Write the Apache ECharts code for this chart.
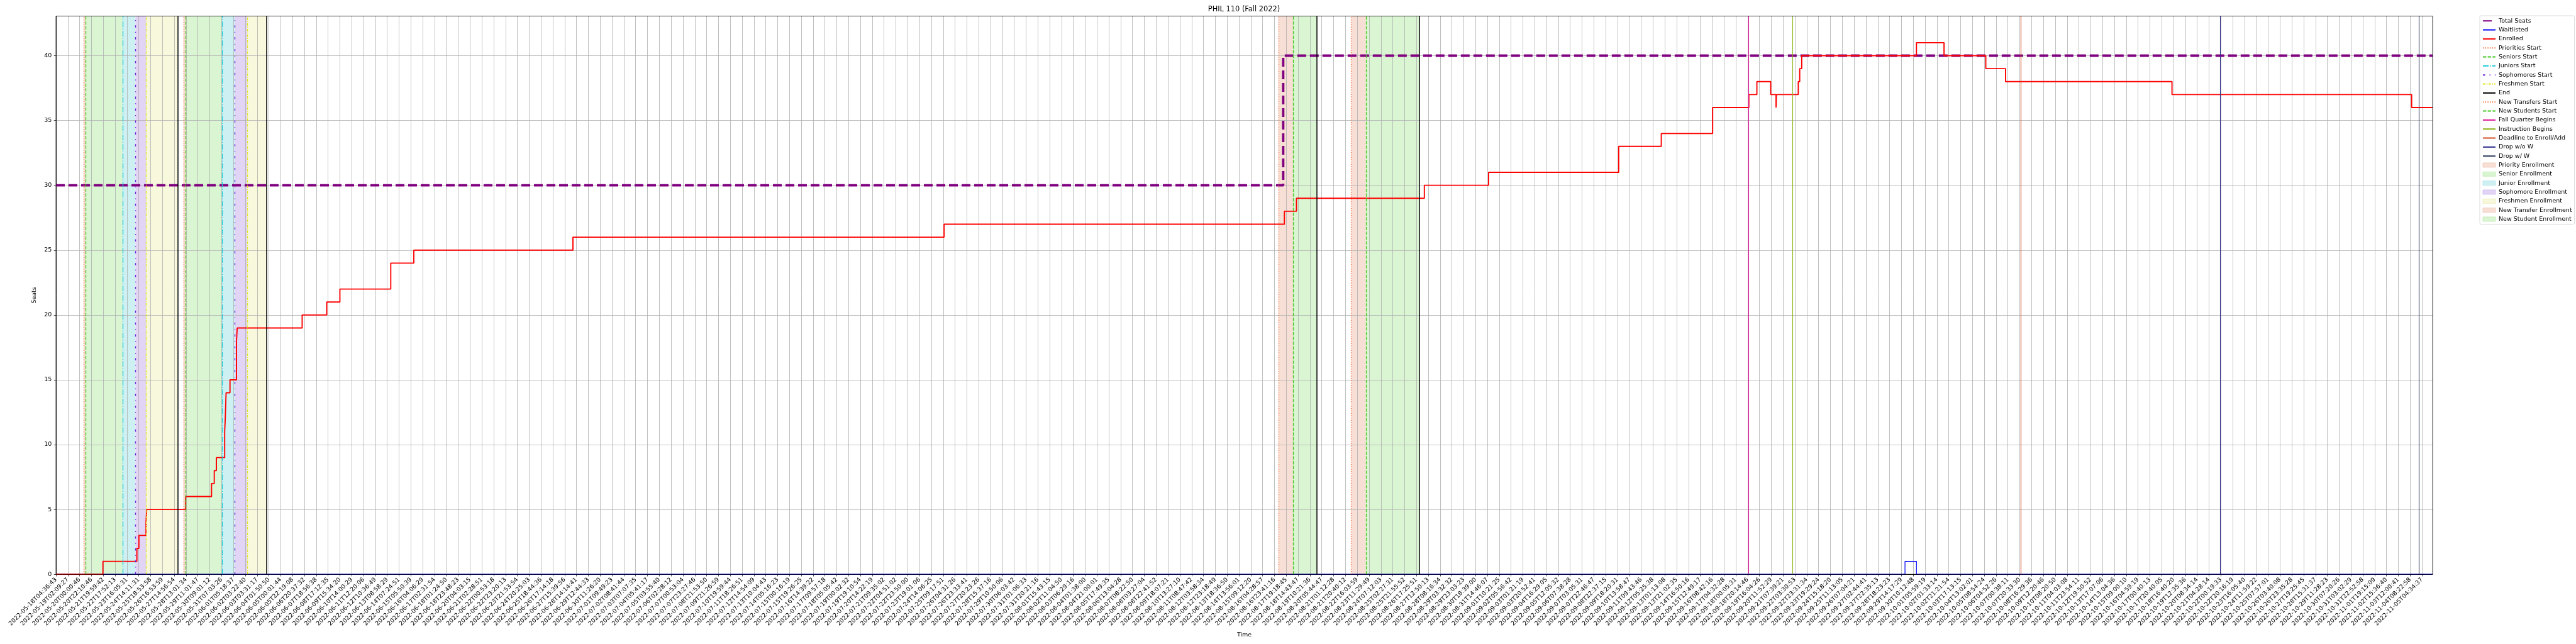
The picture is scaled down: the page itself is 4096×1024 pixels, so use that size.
<!DOCTYPE html>
<html><head><meta charset="utf-8">
<script src="https://cdn.jsdelivr.net/npm/echarts@6/dist/echarts.min.js"></script>
<style>html,body{margin:0;padding:0;background:#fff}#c{width:4096px;height:1024px}</style>
</head><body><div id="c"></div>
<script>
// ---------- tick labels (one per tick, index-based x axis) ----------
const tickLabels = [
"2022-05-18T04:36:43","2022-05-19T02:09:27","2022-05-20T00:00:46","2022-05-20T22:10:46","2022-05-21T19:59:42",
"2022-05-22T17:52:13","2022-05-23T16:05:31","2022-05-24T14:11:31","2022-05-25T18:53:58","2022-05-26T16:53:59",
"2022-05-27T14:56:54","2022-05-28T13:01:34","2022-05-29T11:01:47","2022-05-30T09:01:12","2022-05-31T07:03:26",
"2022-06-01T05:18:37","2022-06-02T03:22:40","2022-06-03T03:31:17","2022-06-04T01:50:50","2022-06-05T00:01:44",
"2022-06-05T22:19:08","2022-06-06T20:37:32","2022-06-07T18:56:38","2022-06-08T17:12:35","2022-06-09T15:34:20",
"2022-06-10T14:00:29","2022-06-11T12:20:06","2022-06-12T10:36:49","2022-06-13T08:58:29","2022-06-14T07:24:51",
"2022-06-15T05:50:39","2022-06-16T04:06:29","2022-06-17T02:31:54","2022-06-18T01:24:50","2022-06-18T23:48:23",
"2022-06-20T04:03:15","2022-06-21T02:28:51","2022-06-22T00:53:18","2022-06-22T23:20:13","2022-06-23T21:53:54",
"2022-06-24T20:25:03","2022-06-25T18:44:36","2022-06-26T17:14:18","2022-06-27T15:39:56","2022-06-28T14:14:41",
"2022-06-29T12:44:33","2022-06-30T11:26:20","2022-07-01T09:49:23","2022-07-02T08:41:44","2022-07-03T07:07:35",
"2022-07-04T05:41:17","2022-07-05T03:55:40","2022-07-06T02:28:12","2022-07-07T00:53:04","2022-07-07T23:27:46",
"2022-07-08T21:53:50","2022-07-09T21:26:59","2022-07-10T19:59:44","2022-07-11T18:26:51","2022-07-12T14:54:09",
"2022-07-13T10:04:43","2022-07-14T05:16:23","2022-07-15T00:16:19","2022-07-15T19:26:25","2022-07-16T14:39:22",
"2022-07-17T09:57:18","2022-07-18T05:05:42","2022-07-19T00:02:32","2022-07-19T19:10:54","2022-07-20T14:22:19",
"2022-07-21T09:35:02","2022-07-22T04:51:02","2022-07-22T23:50:00","2022-07-23T19:01:06","2022-07-24T14:06:25",
"2022-07-25T09:17:51","2022-07-26T04:31:26","2022-07-26T23:33:41","2022-07-27T20:23:26","2022-07-28T15:37:16",
"2022-07-29T10:50:06","2022-07-30T06:03:42","2022-07-31T01:06:33","2022-07-31T20:21:16","2022-08-01T15:43:15",
"2022-08-02T11:04:50","2022-08-03T06:29:16","2022-08-04T01:38:00","2022-08-04T21:00:01","2022-08-05T17:49:35",
"2022-08-06T13:04:28","2022-08-07T08:22:50","2022-08-08T03:27:04","2022-08-08T22:41:52","2022-08-09T18:07:21",
"2022-08-10T13:27:10","2022-08-11T08:47:42","2022-08-12T03:58:34","2022-08-12T23:18:49","2022-08-13T18:36:50",
"2022-08-14T13:56:01","2022-08-15T09:12:20","2022-08-16T04:28:57","2022-08-16T23:41:16","2022-08-17T19:18:45",
"2022-08-18T14:43:47","2022-08-19T10:21:36","2022-08-20T05:44:47","2022-08-21T01:12:28","2022-08-21T20:40:12",
"2022-08-22T16:03:59","2022-08-23T11:29:49","2022-08-24T07:12:03","2022-08-25T02:27:31","2022-08-25T21:55:52",
"2022-08-26T17:25:51","2022-08-27T12:50:13","2022-08-28T08:16:34","2022-08-29T03:32:32","2022-08-29T23:03:23",
"2022-08-30T18:39:00","2022-08-31T14:46:07","2022-09-01T10:21:25","2022-09-02T05:56:42","2022-09-03T01:21:19",
"2022-09-03T20:52:41","2022-09-04T16:29:05","2022-09-05T12:05:32","2022-09-06T07:38:28","2022-09-07T03:05:31",
"2022-09-07T22:46:47","2022-09-08T22:37:15","2022-09-09T18:20:31","2022-09-10T13:58:47","2022-09-11T09:43:46",
"2022-09-12T05:25:38","2022-09-13T01:13:08","2022-09-13T21:02:35","2022-09-14T16:50:16","2022-09-15T12:49:17",
"2022-09-16T08:42:16","2022-09-17T04:32:28","2022-09-18T00:05:31","2022-09-18T20:14:46","2022-09-19T16:04:26",
"2022-09-20T11:52:29","2022-09-21T07:39:21","2022-09-22T03:30:53","2022-09-22T23:31:34","2022-09-23T19:29:24",
"2022-09-24T15:18:20","2022-09-25T11:13:05","2022-09-26T07:04:21","2022-09-27T02:44:41","2022-09-27T22:35:13",
"2022-09-28T18:23:23","2022-09-29T14:17:29","2022-09-30T10:12:48","2022-10-01T05:59:19","2022-10-02T01:33:14",
"2022-10-02T21:21:54","2022-10-03T17:13:15","2022-10-04T13:02:01","2022-10-05T08:54:24","2022-10-06T04:52:26",
"2022-10-07T00:38:11","2022-10-07T20:33:30","2022-10-08T16:29:36","2022-10-09T12:20:46","2022-10-10T08:20:50",
"2022-10-11T04:03:08","2022-10-11T23:54:11","2022-10-12T19:50:52","2022-10-13T17:07:06","2022-10-14T13:04:36",
"2022-10-15T09:00:10","2022-10-16T04:59:19","2022-10-17T00:40:13","2022-10-17T20:40:05","2022-10-18T16:40:20",
"2022-10-19T12:35:36","2022-10-20T08:34:14","2022-10-21T04:28:14","2022-10-22T00:19:33","2022-10-22T20:16:19",
"2022-10-23T16:05:40","2022-10-24T11:59:22","2022-10-25T07:57:01","2022-10-26T03:40:08","2022-10-26T23:35:28",
"2022-10-27T19:25:45","2022-10-28T15:31:37","2022-10-29T11:28:23","2022-10-30T07:20:26","2022-10-31T03:02:29",
"2022-10-31T22:52:58","2022-11-01T19:15:09","2022-11-02T15:36:40","2022-11-03T12:00:41","2022-11-04T08:22:58",
"2022-11-05T04:34:37"
];
const yTickValues = [0, 5, 10, 15, 20, 25, 30, 35, 40];
const xMax = 200.9;
const yMax = 43.05;

// ---------- step series (x in tick-index units) ----------
const seatsX = [0, 103.74, 200.9];
const seatsY = [30, 40, 40];
const waitX = [0, 156.3, 157.27, 200.9];
const waitY = [0, 1, 0, 0];
const enrolledX = [0, 3.97, 6.84, 7.01, 7.61, 7.67, 10.96, 13.15, 13.38, 13.56, 14.26, 14.31, 14.38, 14.71, 15.26, 15.32,
  20.81, 22.89, 24.0, 28.3, 30.25, 43.7, 75.07, 103.84, 104.86, 115.67, 121.1, 132.1, 135.7, 140.04,
  143.1, 143.78, 144.95, 145.4, 145.43, 147.28, 147.4, 147.57, 157.27, 159.6, 163.13, 164.8, 178.87, 199.13, 200.9];
const enrolledY = [0, 1, 2, 3, 4, 5, 6, 7, 8, 9, 11, 12, 14, 15, 18, 19,
  20, 21, 22, 24, 25, 26, 27, 28, 29, 30, 31, 33, 34, 36,
  37, 38, 37, 36, 37, 38, 39, 40, 41, 40, 39, 38, 37, 36, 36];

// ---------- event lines ----------
const prioritiesStart = [2.35, 10.78];
const seniorsStart = [2.52, 10.96];
const juniorsStart = [5.63, 14.04];
const sophomoresStart = [6.72, 15.13];
const freshmenStart = [7.63, 16.18];
const endLines = [10.31, 17.80, 106.56, 115.23];
const newTransfersStart = [103.34, 109.50];
const newStudentsStart = [104.57, 110.73];
const fallQuarterBegins = [143.08];
const instructionBegins = [146.78];
const deadlineEnroll = [166.09];
const dropNoW = [182.94];
const dropW = [199.76];

// ---------- shaded periods ----------
const priorityPeriods = [[2.35, 2.52], [10.78, 10.96]];
const seniorPeriods = [[2.52, 5.63], [10.96, 14.04]];
const juniorPeriods = [[5.63, 6.72], [14.04, 15.13]];
const sophomorePeriods = [[6.72, 7.63], [15.13, 16.18]];
const freshmenPeriods = [[7.63, 10.31], [16.18, 17.80]];
const newTransferPeriods = [[103.34, 104.57], [109.50, 110.73]];
const newStudentPeriods = [[104.57, 106.56], [110.73, 115.23]];

const FONT = 'DejaVu Sans';
const tickIdx = tickLabels.map((_, i) => i);
const zip = (xs, ys) => xs.map((x, i) => [x, ys[i]]);

function stepSeries(name, xs, ys, color, width, type) {
  return { name, type: 'line', step: 'end', data: zip(xs, ys), symbol: 'none', showSymbol: false,
    color, lineStyle: { color, width, type, cap: 'butt' }, z: 2, silent: true, animation: false };
}
function vline(name, xs, color, width, type) {
  return { name, type: 'line', data: [], symbol: 'none', color,
    itemStyle: { color }, lineStyle: { color, width, type },
    markLine: { silent: true, symbol: ['none', 'none'], label: { show: false }, animation: false, z: 4,
      lineStyle: { color, width, type, opacity: 1 }, emphasis: { disabled: true },
      data: xs.map(x => ({ xAxis: x })) } };
}
function band(name, ranges, color) {
  return { name, type: 'line', data: [], symbol: 'none', color,
    itemStyle: { color }, lineStyle: { color, width: 0 },
    markArea: { silent: true, z: 1, animation: false, itemStyle: { color, borderWidth: 0, opacity: 1 },
      emphasis: { disabled: true },
      data: ranges.map(r => [{ xAxis: r[0] }, { xAxis: r[1] }]) } };
}

const C = {
  seats: '#800080', wait: '#0000ff', enr: '#ff0000',
  prio: '#f06a38', sen: '#44c822', jun: '#1cc8d6', soph: '#6a24d9', fresh: '#e2e21c', end: '#000000',
  fall: '#de1398', instr: '#8ab416', dead: '#d24a1f', dnw: '#2c2c8c', dw: '#2f3d5c',
  prioF: '#f7dfd5', senF: '#d9f5d1', junF: '#cdf0f3', sophF: '#e1d4f5', freshF: '#f7f8dc'
};
const dotted = [1.4, 2.3], dashed = [5.3, 2.3], dashdot = [9, 2.3, 1.4, 2.3],
      sophDash = [3.6, 7, 1.3, 7], freshDash = [4, 1.8, 1.3, 1.8];

const series = [
  stepSeries('Total Seats', seatsX, seatsY, C.seats, 3.8, [14, 6]),
  stepSeries('Waitlisted', waitX, waitY, C.wait, 1.2, 'solid'),
  stepSeries('Enrolled', enrolledX, enrolledY, C.enr, 1.9, 'solid'),
  vline('Priorities Start', prioritiesStart, C.prio, 1.3, dotted),
  vline('Seniors Start', seniorsStart, C.sen, 1.3, dashed),
  vline('Juniors Start', juniorsStart, C.jun, 1.3, dashdot),
  vline('Sophomores Start', sophomoresStart, C.soph, 1.4, sophDash),
  vline('Freshmen Start', freshmenStart, C.fresh, 1.3, freshDash),
  vline('End', endLines, C.end, 1.5, 'solid'),
  vline('New Transfers Start', newTransfersStart, C.prio, 1.3, dotted),
  vline('New Students Start', newStudentsStart, C.sen, 1.3, dashed),
  vline('Fall Quarter Begins', fallQuarterBegins, C.fall, 1.1, 'solid'),
  vline('Instruction Begins', instructionBegins, C.instr, 1.1, 'solid'),
  vline('Deadline to Enroll/Add', deadlineEnroll, C.dead, 1.1, 'solid'),
  vline('Drop w/o W', dropNoW, C.dnw, 1.1, 'solid'),
  vline('Drop w/ W', dropW, C.dw, 1.1, 'solid'),
  band('Priority Enrollment', priorityPeriods, C.prioF),
  band('Senior Enrollment', seniorPeriods, C.senF),
  band('Junior Enrollment', juniorPeriods, C.junF),
  band('Sophomore Enrollment', sophomorePeriods, C.sophF),
  band('Freshmen Enrollment', freshmenPeriods, C.freshF),
  band('New Transfer Enrollment', newTransferPeriods, C.prioF),
  band('New Student Enrollment', newStudentPeriods, C.senF)
];

const bandEdge = { 'Priority Enrollment': '#efc7b6', 'Senior Enrollment': '#bfeab3', 'Junior Enrollment': '#b0e4ea',
  'Sophomore Enrollment': '#cbb8ee', 'Freshmen Enrollment': '#ececb8', 'New Transfer Enrollment': '#efc7b6',
  'New Student Enrollment': '#bfeab3' };
const legendData = series.map(s => s.markArea
  ? { name: s.name, icon: 'rect', itemStyle: { color: s.color, borderColor: bandEdge[s.name], borderWidth: 0.8 } }
  : { name: s.name, itemStyle: { opacity: 0 } });

const chart = echarts.init(document.getElementById('c'), null, { renderer: 'canvas', width: 4096, height: 1024 });
chart.setOption({
  animation: false,
  textStyle: { fontFamily: FONT },
  title: { text: 'PHIL 110 (Fall 2022)', left: 1978, top: 10, padding: 0, textAlign: 'center',
    textStyle: { fontFamily: FONT, fontSize: 11.4, fontWeight: 'normal', color: '#000' } },
  grid: { left: 89, right: 228, top: 25.6, bottom: 110.8, show: true, borderColor: '#000', borderWidth: 0.8,
    backgroundColor: 'transparent', z: 6, containLabel: false },
  legend: {
    orient: 'vertical', left: 3943, top: 25, selectedMode: false,
    itemWidth: 20, itemHeight: 7, itemGap: 2.33, padding: [2.2, 4, 2, 4],
    backgroundColor: '#ffffff', borderColor: '#cccccc', borderWidth: 0.7, borderRadius: 2,
    textStyle: { fontFamily: FONT, fontSize: 9.5, color: '#000', lineHeight: 12 },
    data: legendData
  },
  xAxis: {
    type: 'value', min: 0, max: xMax, interval: 1, z: 1.5,
    name: 'Time', nameLocation: 'middle', nameGap: 89,
    nameTextStyle: { fontFamily: FONT, fontSize: 9.5, color: '#000' },
    axisLine: { show: true, lineStyle: { color: '#000', width: 0.8 } },
    axisTick: { show: true, inside: false, length: 3.3, customValues: tickIdx, lineStyle: { color: '#000', width: 0.7 } },
    axisLabel: { show: true, rotate: 45, margin: 7, customValues: tickIdx, fontFamily: FONT, fontSize: 9.5, color: '#000',
      formatter: v => (Number.isInteger(v) && tickLabels[v]) ? tickLabels[v] : '' },
    splitLine: { show: true, lineStyle: { color: '#b0b0b0', width: 0.8 } }
  },
  yAxis: {
    type: 'value', min: 0, max: yMax, interval: 5, z: 1.5,
    name: 'Seats', nameLocation: 'middle', nameGap: 21, nameRotate: 90,
    nameTextStyle: { fontFamily: FONT, fontSize: 9.5, color: '#000' },
    axisLine: { show: true, lineStyle: { color: '#000', width: 0.8 } },
    axisTick: { show: true, inside: false, length: 3.3, customValues: yTickValues, lineStyle: { color: '#000', width: 0.7 } },
    axisLabel: { show: true, margin: 6.6, customValues: yTickValues, fontFamily: FONT, fontSize: 9.5, color: '#000',
      formatter: v => (v % 5 === 0 ? String(v) : '') },
    splitLine: { show: true, lineStyle: { color: '#b0b0b0', width: 0.8 } }
  },
  series
});
</script>
</body></html>
